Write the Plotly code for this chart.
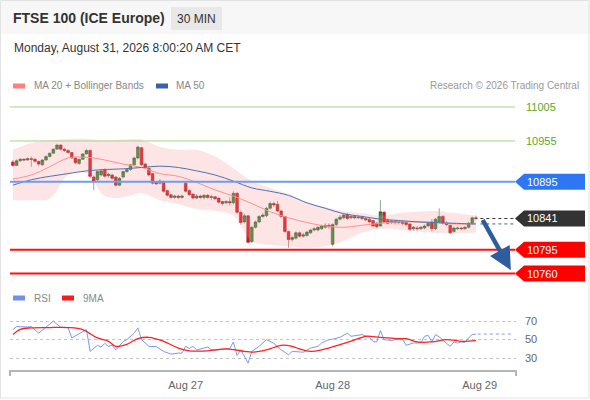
import plotly.graph_objects as go

# ---- values (30 min candles, index = bar number) ----
opens = [10924, 10919, 10926, 10928, 10927, 10929, 10928, 10925, 10920, 10927,
         10932, 10937, 10943, 10949, 10943, 10941, 10938, 10930, 10922, 10928,
         10936, 10941, 10902, 10898, 10905, 10913, 10904, 10905, 10902, 10890,
         10902, 10910, 10913, 10920, 10930, 10945, 10921, 10915, 10907, 10894,
         10893, 10895, 10882, 10876, 10872, 10874, 10872, 10893, 10882, 10877,
         10871, 10874, 10872, 10875, 10872, 10873, 10871, 10866, 10864, 10866,
         10864, 10878, 10850, 10836, 10845, 10807, 10828, 10836, 10844, 10845,
         10856, 10863, 10862, 10852, 10844, 10822, 10810, 10812, 10820, 10815,
         10816, 10820, 10824, 10824, 10826, 10828, 10831, 10803, 10832, 10840,
         10842, 10847, 10842, 10844, 10842, 10843, 10841, 10840, 10838, 10834,
         10830, 10850, 10838, 10835, 10837, 10835, 10836, 10835, 10833, 10826,
         10827, 10826, 10827, 10830, 10836, 10826, 10836, 10844, 10834, 10831,
         10822, 10826, 10827, 10826, 10828, 10834, 10842]
highs = [10927, 10928, 10930, 10930, 10931, 10932, 10930, 10926, 10928, 10934,
         10938, 10944, 10951, 10950, 10945, 10943, 10939, 10931, 10929, 10937,
         10943, 10943, 10904, 10911, 10914, 10915, 10908, 10907, 10903, 10902,
         10911, 10915, 10921, 10932, 10948, 10946, 10923, 10916, 10908, 10896,
         10899, 10897, 10883, 10877, 10876, 10876, 10876, 10896, 10884, 10878,
         10877, 10876, 10877, 10877, 10876, 10874, 10872, 10867, 10868, 10872,
         10881, 10880, 10853, 10848, 10846, 10830, 10838, 10846, 10849, 10858,
         10866, 10866, 10867, 10854, 10845, 10823, 10816, 10822, 10822, 10820,
         10823, 10826, 10828, 10830, 10832, 10834, 10834, 10834, 10842, 10846,
         10849, 10849, 10846, 10846, 10845, 10845, 10843, 10842, 10839, 10836,
         10868, 10852, 10841, 10839, 10839, 10838, 10838, 10837, 10834, 10830,
         10830, 10830, 10832, 10836, 10840, 10842, 10856, 10846, 10837, 10832,
         10829, 10829, 10829, 10830, 10836, 10844, 10845]
lows = [10917, 10918, 10924, 10925, 10926, 10917, 10923, 10918, 10918, 10926,
        10931, 10936, 10942, 10941, 10939, 10936, 10929, 10921, 10920, 10927,
        10935, 10900, 10883, 10896, 10903, 10901, 10901, 10898, 10888, 10889,
        10900, 10908, 10911, 10918, 10928, 10918, 10914, 10903, 10891, 10890,
        10891, 10879, 10873, 10870, 10870, 10870, 10870, 10879, 10874, 10869,
        10869, 10870, 10869, 10870, 10868, 10868, 10863, 10860, 10862, 10860,
        10862, 10848, 10832, 10834, 10804, 10805, 10826, 10834, 10842, 10843,
        10854, 10858, 10850, 10842, 10820, 10798, 10807, 10810, 10813, 10813,
        10814, 10818, 10822, 10822, 10824, 10826, 10826, 10800, 10830, 10838,
        10840, 10839, 10840, 10840, 10840, 10839, 10837, 10834, 10828, 10827,
        10829, 10834, 10832, 10833, 10832, 10832, 10831, 10829, 10823, 10823,
        10823, 10824, 10825, 10828, 10822, 10824, 10834, 10832, 10830, 10818,
        10820, 10824, 10824, 10824, 10826, 10832, 10839]
closes = [10919, 10926, 10928, 10927, 10929, 10928, 10925, 10921, 10927, 10932,
          10937, 10943, 10949, 10943, 10941, 10938, 10930, 10923, 10928, 10936,
          10941, 10903, 10896, 10910, 10911, 10903, 10906, 10900, 10890, 10900,
          10910, 10913, 10920, 10930, 10946, 10920, 10916, 10905, 10893, 10892,
          10896, 10881, 10875, 10872, 10874, 10872, 10874, 10881, 10876, 10871,
          10874, 10872, 10875, 10872, 10873, 10870, 10865, 10863, 10866, 10864,
          10878, 10850, 10835, 10845, 10806, 10828, 10836, 10844, 10846, 10856,
          10863, 10861, 10852, 10844, 10822, 10810, 10813, 10820, 10815, 10817,
          10821, 10824, 10826, 10828, 10830, 10831, 10829, 10832, 10840, 10843,
          10846, 10841, 10844, 10842, 10843, 10841, 10839, 10836, 10830, 10829,
          10851, 10836, 10834, 10837, 10835, 10836, 10834, 10832, 10825, 10828,
          10826, 10828, 10830, 10834, 10826, 10840, 10844, 10834, 10832, 10820,
          10827, 10827, 10826, 10828, 10834, 10842, 10841]
bars = list(range(len(closes)))

# indicator readings (bar index -> value)
ind_idx = [0, 5, 10, 15, 20, 25, 30, 35, 40, 45, 50, 55, 60, 65, 70, 75, 80,
           85, 90, 95, 100, 105, 110, 115, 120, 125, 126]
ma20 = [10899, 10905, 10917, 10930, 10931, 10927, 10921, 10916, 10907, 10903,
        10894, 10883, 10874, 10863, 10851, 10842, 10835, 10830, 10828, 10831,
        10834, 10836, 10836, 10835, 10833, 10833, 10833]
ma50 = [10890, 10898, 10903, 10907, 10911, 10913, 10914, 10916, 10918, 10916,
        10911, 10905, 10896, 10886, 10881, 10875, 10864, 10856, 10848, 10844,
        10840, 10838, 10836, 10835, 10834, 10833, 10833]
bb_upper = [10942, 10952, 10956, 10958, 10958, 10956, 10957, 10957, 10946, 10942,
            10942, 10932, 10915, 10896, 10886, 10877, 10865, 10858, 10852, 10849,
            10845, 10849, 10851, 10852, 10849, 10846, 10846]
bb_lower = [10868, 10868, 10870, 10905, 10908, 10874, 10872, 10878, 10868, 10862,
            10855, 10852, 10845, 10808, 10802, 10800, 10798, 10800, 10808, 10820,
            10826, 10824, 10822, 10820, 10819, 10820, 10820]

rsi_idx = [0, 1, 4, 5, 7, 9, 11, 13, 15, 16, 18, 20, 21, 23, 24, 25, 26, 27, 28,
           30, 31, 33, 34, 35, 37, 39, 41, 43, 45, 46, 47, 48, 49, 50, 53, 54, 56,
           59, 60, 61, 62, 64, 65, 67, 69, 71, 73, 75, 76, 78, 79, 81, 83, 84, 86,
           87, 89, 91, 92, 95, 97, 98, 99, 100, 101, 103, 104, 106, 107, 109, 111,
           112, 113, 114, 115, 116, 117, 118, 119, 120, 121, 122, 123, 124, 125, 126]
rsi = [60.8, 64, 63.6, 64, 57, 63, 69.8, 63.3, 63, 51.8, 56, 60.8, 37.4, 43.9,
       42, 46, 42.7, 44, 39, 48, 50, 57, 62.6, 50, 42.8, 42.5, 37.4, 34.5, 35.5,
       35.5, 42.8, 40.5, 42.8, 39, 42, 39, 39, 40.5, 47.5, 33, 39, 24.8, 37.4,
       42.8, 50, 46, 39, 33.8, 37.4, 37, 36.5, 41, 42.8, 46.4, 50, 50.5, 52.5,
       57, 53.6, 55.4, 52.5, 48, 47.5, 59.7, 50, 49, 50, 50.7, 44, 46.4, 46.4,
       53.6, 54.6, 47.5, 55.4, 53, 50, 46, 42.8, 47.5, 46.4, 47.5, 47, 52, 55.4, 56]
rsi_ma_idx = [0, 2, 5, 10, 15, 19, 23, 26, 28, 31, 34, 37, 41, 45, 48, 53, 58, 63,
              65, 69, 73, 76, 78, 81, 84, 89, 94, 96, 100, 105, 107, 110, 114,
              118, 122, 126]
rsi_ma9 = [55.4, 61, 62.7, 63, 63, 60.8, 51.8, 48.2, 42.8, 45, 51, 52.5, 48.2, 41,
           38, 38, 40, 37.5, 36.5, 39, 43.9, 42.8, 40, 37.4, 39, 44.6, 51, 53.6,
           52.5, 51, 51, 47.5, 47.5, 50, 48.2, 49]
rsi_levels = [30, 50, 70]

tick_idx = [47, 87, 127]
tick_text = ["Aug 27", "Aug 28", "Aug 29"]

resistances = [11005, 10955]
pivot = 10895
supports = [10795, 10760]
last_price = closes[-1]

# ---- geometry (pixels of the 590x400 page) ----
W, H = 590, 400
ML, MR = 10, 74
PW = W - ML - MR
FONT = "Liberation Sans, Arial, sans-serif"
X_RANGE = [-0.8, 136.9]
PRICE_RANGE = [10747.6, 11022.6]
RSI_RANGE = [17.4, 87.2]
PX_PER_PT = 187 / (PRICE_RANGE[1] - PRICE_RANGE[0])


def fx(px):
    return (px - ML) / PW


def fy(py):
    return 1 - py / H


fig = go.Figure()

# bollinger band fill + moving averages
fig.add_trace(go.Scatter(x=ind_idx, y=bb_upper, mode="lines", line=dict(width=0, shape="spline"),
                         hoverinfo="skip", showlegend=False))
fig.add_trace(go.Scatter(x=ind_idx, y=bb_lower, mode="lines", line=dict(width=0, shape="spline"),
                         fill="tonexty", fillcolor="rgba(250,150,150,0.25)",
                         hoverinfo="skip", showlegend=False))
fig.add_trace(go.Scatter(x=ind_idx, y=ma20, mode="lines",
                         line=dict(color="#ff8f8f", width=1, shape="spline"),
                         hoverinfo="skip", showlegend=False))
fig.add_trace(go.Scatter(x=ind_idx, y=ma50, mode="lines",
                         line=dict(color="#4d72b3", width=1, shape="spline"),
                         hoverinfo="skip", showlegend=False))

fig.add_trace(go.Candlestick(
    x=bars, open=opens, high=highs, low=lows, close=closes,
    increasing=dict(line=dict(color="#2a4f2a", width=0.5), fillcolor="#2e8f2e"),
    decreasing=dict(line=dict(color="#7a2020", width=0.5), fillcolor="#ee1118"),
    whiskerwidth=0, hoverinfo="skip", showlegend=False))

# RSI panel
fig.add_trace(go.Scatter(x=rsi_idx, y=rsi, xaxis="x2", yaxis="y2", mode="lines",
                         line=dict(color="#7d99ee", width=1), hoverinfo="skip", showlegend=False))
fig.add_trace(go.Scatter(x=rsi_ma_idx, y=rsi_ma9, xaxis="x2", yaxis="y2", mode="lines",
                         line=dict(color="#ff2020", width=1.3, shape="spline"),
                         hoverinfo="skip", showlegend=False))

shapes = []
annotations = []

# header band, frame, "30 MIN" badge
shapes.append(dict(type="rect", xref="paper", yref="paper", x0=fx(0), x1=fx(W), y0=fy(34), y1=fy(0),
                   fillcolor="#f7f7f7", line=dict(width=0), layer="below"))
shapes.append(dict(type="rect", xref="paper", yref="paper", x0=fx(0.5), x1=fx(589), y0=fy(398), y1=fy(0.5),
                   fillcolor="rgba(0,0,0,0)", line=dict(color="#e3e3e3", width=1)))
shapes.append(dict(type="rect", xref="paper", yref="paper", x0=fx(171), x1=fx(222), y0=fy(30), y1=fy(7),
                   fillcolor="#e8e8e8", line=dict(width=0)))
annotations += [
    dict(text="<b>FTSE 100 (ICE Europe)</b>", x=fx(11), y=fy(18), font=dict(size=14, color="#333")),
    dict(text="30 MIN", x=fx(196.5), y=fy(18.5), xanchor="center", font=dict(size=12, color="#333")),
    dict(text="Monday, August 31, 2026 8:00:20 AM CET", x=fx(12), y=fy(48), font=dict(size=12, color="#333")),
    dict(text="MA 20 + Bollinger Bands", x=fx(32), y=fy(86), font=dict(size=10, color="#888")),
    dict(text="MA 50", x=fx(174), y=fy(86), font=dict(size=10, color="#888")),
    dict(text="Research © 2026 Trading Central", x=fx(581), y=fy(86), xanchor="right",
         font=dict(size=10, color="#999")),
    dict(text="RSI", x=fx(32), y=fy(298), font=dict(size=10, color="#888")),
    dict(text="9MA", x=fx(81), y=fy(298), font=dict(size=10, color="#888")),
]
for x0, x1, yc, col in [(13, 25, 86, "#ff8080"), (156, 168, 86, "#3a62a6"),
                        (13, 25, 298, "#7090ea"), (62, 74, 298, "#ff1a1a")]:
    shapes.append(dict(type="rect", xref="paper", yref="paper", x0=fx(x0), x1=fx(x1),
                       y0=fy(yc + 2.5), y1=fy(yc - 2.5), fillcolor=col, line=dict(width=0)))

# price levels
half = 8 / PX_PER_PT


def tag(price, color):
    xt, xb, xr = fx(515), fx(524), fx(585)
    path = (f"M {xt},{price} L {xb},{price + half} L {xr},{price + half} "
            f"L {xr},{price - half} L {xb},{price - half} Z")
    shapes.append(dict(type="path", xref="paper", yref="y", path=path, fillcolor=color,
                       line=dict(width=0)))
    annotations.append(dict(text=str(price), x=fx(525), y=price, yref="y",
                            font=dict(size=11, color="white")))


for lvl in resistances:
    shapes.append(dict(type="line", xref="paper", yref="y", x0=0, x1=fx(515), y0=lvl, y1=lvl,
                       line=dict(color="#a9d08e", width=1)))
    annotations.append(dict(text=str(lvl), x=fx(524), y=lvl, yref="y",
                            font=dict(size=11, color="#5ca823")))

shapes.append(dict(type="line", xref="paper", yref="y", x0=0, x1=fx(515), y0=pivot, y1=pivot,
                   line=dict(color="#6d9cf2", width=2)))
tag(pivot, "#2f76f2")

for lvl in supports:
    shapes.append(dict(type="line", xref="paper", yref="y", x0=0, x1=fx(515), y0=lvl, y1=lvl,
                       line=dict(color="#ff1010", width=2)))
    tag(lvl, "#ff0000")

# last price / last MA50 / last RSI markers
shapes.append(dict(type="line", xref="x", yref="y", x0=len(bars) + 0.2, x1=X_RANGE[1] - 0.3,
                   y0=last_price, y1=last_price, line=dict(color="#333", width=1, dash="dot")))
tag(last_price, "#333333")
shapes.append(dict(type="line", xref="x", yref="y", x0=len(bars) + 0.2, x1=X_RANGE[1] - 0.3,
                   y0=ma50[-1], y1=ma50[-1], line=dict(color="#3a62a6", width=1, dash="dot")))
shapes.append(dict(type="line", xref="x2", yref="y2", x0=len(bars) - 0.5, x1=X_RANGE[1] - 0.8,
                   y0=rsi[-1], y1=rsi[-1], line=dict(color="#7d99ee", width=1, dash="dot")))

# forecast arrow towards the second support
annotations.append(dict(x=len(bars) + 8.5, y=supports[1] + 5, ax=len(bars) + 0.6, ay=last_price,
                        xref="x", yref="y", axref="x", ayref="y", text="", showarrow=True,
                        arrowhead=2, arrowsize=1, arrowwidth=4.5, arrowcolor="#2d5d9c"))

# ends of the time axis
for xe in (0, 1):
    shapes.append(dict(type="line", xref="paper", yref="paper", x0=xe, x1=xe, y0=fy(370), y1=fy(376),
                       line=dict(color="#b5b5b5", width=2)))

for a in annotations:
    a.setdefault("xref", "paper")
    a.setdefault("yref", "paper")
    a.setdefault("xanchor", "left")
    a.setdefault("yanchor", "middle")
    a.setdefault("showarrow", False)

fig.update_layout(
    width=W, height=H,
    margin=dict(l=ML, r=MR, t=0, b=0),
    paper_bgcolor="white", plot_bgcolor="white",
    font=dict(family=FONT, color="#333"),
    showlegend=False, hovermode=False,
    boxgap=0.12, boxgroupgap=0.15,
    xaxis=dict(domain=[0, 1], range=X_RANGE, visible=False, anchor="y",
               rangeslider=dict(visible=False), fixedrange=True),
    yaxis=dict(domain=[fy(282), fy(95)], range=PRICE_RANGE, visible=False, fixedrange=True),
    xaxis2=dict(domain=[0, 1], range=X_RANGE, anchor="y2", tickvals=tick_idx, ticktext=tick_text,
                showline=True, linecolor="#b5b5b5", linewidth=2, ticks="", showgrid=False,
                zeroline=False, tickfont=dict(size=11, color="#666"), ticklabelstandoff=4,
                fixedrange=True),
    yaxis2=dict(domain=[fy(370), fy(305)], range=RSI_RANGE, anchor="x2", side="right",
                tickvals=rsi_levels, showgrid=True, gridcolor="#c4c4c4", griddash="dot",
                zeroline=False, showline=False, ticks="", tickfont=dict(size=11, color="#666"),
                ticklabelstandoff=8, fixedrange=True),
    shapes=shapes, annotations=annotations,
)

# the page body has an 8px default margin; drop it so the figure sits at the window's corner
fig.write_html("out.html", config={"displayModeBar": False},
               post_script="document.body.style.margin='0';")
